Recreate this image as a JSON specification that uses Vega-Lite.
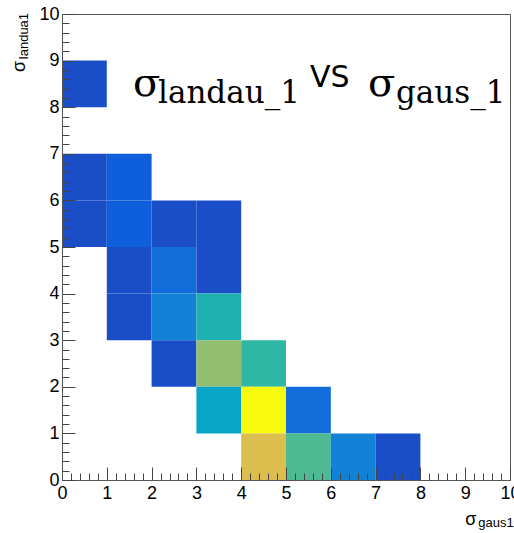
{
  "$schema": "https://vega.github.io/schema/vega-lite/v6.json",
  "width": 448,
  "height": 466,
  "autosize": {"type": "none"},
  "padding": {"left": 62, "top": 14, "right": 4, "bottom": 53},
  "background": "white",
  "config": {"view": {"stroke": "#555555", "strokeWidth": 1}},
  "resolve": {"axis": {"x": "independent", "y": "independent"}},
  "layer": [
    {
      "data": {"values": [
        {"x": 0, "x2": 1, "y": 8, "y2": 9, "n": 1},
        {"x": 0, "x2": 1, "y": 6, "y2": 7, "n": 1},
        {"x": 0, "x2": 1, "y": 5, "y2": 6, "n": 1},
        {"x": 1, "x2": 2, "y": 6, "y2": 7, "n": 1.5},
        {"x": 1, "x2": 2, "y": 5, "y2": 6, "n": 1.5},
        {"x": 2, "x2": 3, "y": 5, "y2": 6, "n": 1},
        {"x": 3, "x2": 4, "y": 5, "y2": 6, "n": 1},
        {"x": 1, "x2": 2, "y": 4, "y2": 5, "n": 1},
        {"x": 1, "x2": 2, "y": 3, "y2": 4, "n": 1},
        {"x": 2, "x2": 3, "y": 4, "y2": 5, "n": 2},
        {"x": 3, "x2": 4, "y": 4, "y2": 5, "n": 1},
        {"x": 2, "x2": 3, "y": 3, "y2": 4, "n": 2.8},
        {"x": 3, "x2": 4, "y": 3, "y2": 4, "n": 5},
        {"x": 2, "x2": 3, "y": 2, "y2": 3, "n": 1},
        {"x": 3, "x2": 4, "y": 2, "y2": 3, "n": 7.1},
        {"x": 4, "x2": 5, "y": 2, "y2": 3, "n": 5.5},
        {"x": 3, "x2": 4, "y": 1, "y2": 2, "n": 4.2},
        {"x": 4, "x2": 5, "y": 1, "y2": 2, "n": 11},
        {"x": 5, "x2": 6, "y": 1, "y2": 2, "n": 2},
        {"x": 4, "x2": 5, "y": 0, "y2": 1, "n": 8.6},
        {"x": 5, "x2": 6, "y": 0, "y2": 1, "n": 6},
        {"x": 6, "x2": 7, "y": 0, "y2": 1, "n": 2.8},
        {"x": 7, "x2": 8, "y": 0, "y2": 1, "n": 1}
      ]},
      "mark": {"type": "rect", "strokeWidth": 0},
      "encoding": {
        "x": {
          "field": "x", "type": "quantitative",
          "scale": {"domain": [0, 10], "nice": false, "zero": false},
          "axis": {
            "title": null,
            "grid": false,
            "values": [0,0.2,0.4,0.6,0.8,1,1.2,1.4,1.6,1.8,2,2.2,2.4,2.6,2.8,3,3.2,3.4,3.6,3.8,4,4.2,4.4,4.6,4.8,5,5.2,5.4,5.6,5.8,6,6.2,6.4,6.6,6.8,7,7.2,7.4,7.6,7.8,8,8.2,8.4,8.6,8.8,9,9.2,9.4,9.6,9.8,10],
            "labelExpr": "datum.value % 1 === 0 ? '' + datum.value : ''",
            "tickSize": {"condition": {"test": "datum.value % 1 === 0", "value": -13}, "value": -7},
            "tickColor": "#444444",
            "domainColor": "#555555",
            "labelFont": "Liberation Sans",
            "labelFontSize": 18,
            "labelColor": "black",
            "labelPadding": 17,
            "labelOverlap": false,
            "labelFlush": false,
            "zindex": 1
          }
        },
        "x2": {"field": "x2"},
        "y": {
          "field": "y", "type": "quantitative",
          "scale": {"domain": [0, 10], "nice": false, "zero": false},
          "axis": {
            "title": null,
            "grid": false,
            "values": [0,0.2,0.4,0.6,0.8,1,1.2,1.4,1.6,1.8,2,2.2,2.4,2.6,2.8,3,3.2,3.4,3.6,3.8,4,4.2,4.4,4.6,4.8,5,5.2,5.4,5.6,5.8,6,6.2,6.4,6.6,6.8,7,7.2,7.4,7.6,7.8,8,8.2,8.4,8.6,8.8,9,9.2,9.4,9.6,9.8,10],
            "labelExpr": "datum.value % 1 === 0 ? '' + datum.value : ''",
            "tickSize": {"condition": {"test": "datum.value % 1 === 0", "value": -13}, "value": -7},
            "tickColor": "#444444",
            "domainColor": "#555555",
            "labelFont": "Liberation Sans",
            "labelFontSize": 18,
            "labelColor": "black",
            "labelPadding": 16,
            "labelOverlap": false,
            "labelFlush": false,
            "zindex": 1
          }
        },
        "y2": {"field": "y2"},
        "color": {
          "field": "n", "type": "quantitative", "legend": null,
          "scale": {
            "domain": [0, 1.375, 2.75, 4.125, 5.5, 6.875, 8.25, 9.625, 11],
            "range": ["#352a87", "#0f5cdd", "#1481d6", "#06a4ca", "#2eb7a4", "#87bf77", "#d1bb59", "#fec832", "#f9fb0e"],
            "interpolate": "rgb"
          }
        }
      }
    },
    {
      "data": {"values": [{"x": 1.585, "y": 8.24, "t": "σ"}, {"x": 6.83, "y": 8.24, "t": "σ"}]},
      "mark": {"type": "text", "font": "DejaVu Serif", "fontSize": 40, "align": "left", "baseline": "alphabetic", "color": "black"},
      "encoding": {
        "x": {"field": "x", "type": "quantitative", "scale": {"domain": [0, 10]}, "axis": null},
        "y": {"field": "y", "type": "quantitative", "scale": {"domain": [0, 10]}, "axis": null},
        "text": {"field": "t"}
      }
    },
    {
      "data": {"values": [{"x": 2.143, "y": 8.09, "t": "landau_1"}, {"x": 7.455, "y": 8.09, "t": "gaus_1"}]},
      "mark": {"type": "text", "font": "DejaVu Serif", "fontSize": 31, "align": "left", "baseline": "alphabetic", "color": "black"},
      "encoding": {
        "x": {"field": "x", "type": "quantitative", "scale": {"domain": [0, 10]}, "axis": null},
        "y": {"field": "y", "type": "quantitative", "scale": {"domain": [0, 10]}, "axis": null},
        "text": {"field": "t"}
      }
    },
    {
      "data": {"values": [{"x": 5.536, "y": 8.43, "t": "VS"}]},
      "mark": {"type": "text", "font": "DejaVu Sans", "fontSize": 30, "align": "left", "baseline": "alphabetic", "color": "black"},
      "encoding": {
        "x": {"field": "x", "type": "quantitative", "scale": {"domain": [0, 10]}, "axis": null},
        "y": {"field": "y", "type": "quantitative", "scale": {"domain": [0, 10]}, "axis": null},
        "text": {"field": "t"}
      }
    },
    {
      "data": {"values": [{"x": 9.0, "y": -0.966, "t": "σ"}]},
      "mark": {"type": "text", "font": "Liberation Sans", "fontSize": 18, "align": "left", "baseline": "alphabetic", "color": "black"},
      "encoding": {
        "x": {"field": "x", "type": "quantitative", "scale": {"domain": [0, 10]}, "axis": null},
        "y": {"field": "y", "type": "quantitative", "scale": {"domain": [0, 10]}, "axis": null},
        "text": {"field": "t"}
      }
    },
    {
      "data": {"values": [{"x": 9.29, "y": -1.01, "t": "gaus1"}]},
      "mark": {"type": "text", "font": "Liberation Sans", "fontSize": 13, "align": "left", "baseline": "alphabetic", "color": "black"},
      "encoding": {
        "x": {"field": "x", "type": "quantitative", "scale": {"domain": [0, 10]}, "axis": null},
        "y": {"field": "y", "type": "quantitative", "scale": {"domain": [0, 10]}, "axis": null},
        "text": {"field": "t"}
      }
    },
    {
      "data": {"values": [{"x": -0.826, "y": 8.755, "t": "σ"}]},
      "mark": {"type": "text", "font": "Liberation Sans", "fontSize": 18, "align": "left", "baseline": "alphabetic", "angle": 270, "color": "black"},
      "encoding": {
        "x": {"field": "x", "type": "quantitative", "scale": {"domain": [0, 10]}, "axis": null},
        "y": {"field": "y", "type": "quantitative", "scale": {"domain": [0, 10]}, "axis": null},
        "text": {"field": "t"}
      }
    },
    {
      "data": {"values": [{"x": -0.759, "y": 9.03, "t": "landua1"}]},
      "mark": {"type": "text", "font": "Liberation Sans", "fontSize": 13, "align": "left", "baseline": "alphabetic", "angle": 270, "color": "black"},
      "encoding": {
        "x": {"field": "x", "type": "quantitative", "scale": {"domain": [0, 10]}, "axis": null},
        "y": {"field": "y", "type": "quantitative", "scale": {"domain": [0, 10]}, "axis": null},
        "text": {"field": "t"}
      }
    }
  ]
}
